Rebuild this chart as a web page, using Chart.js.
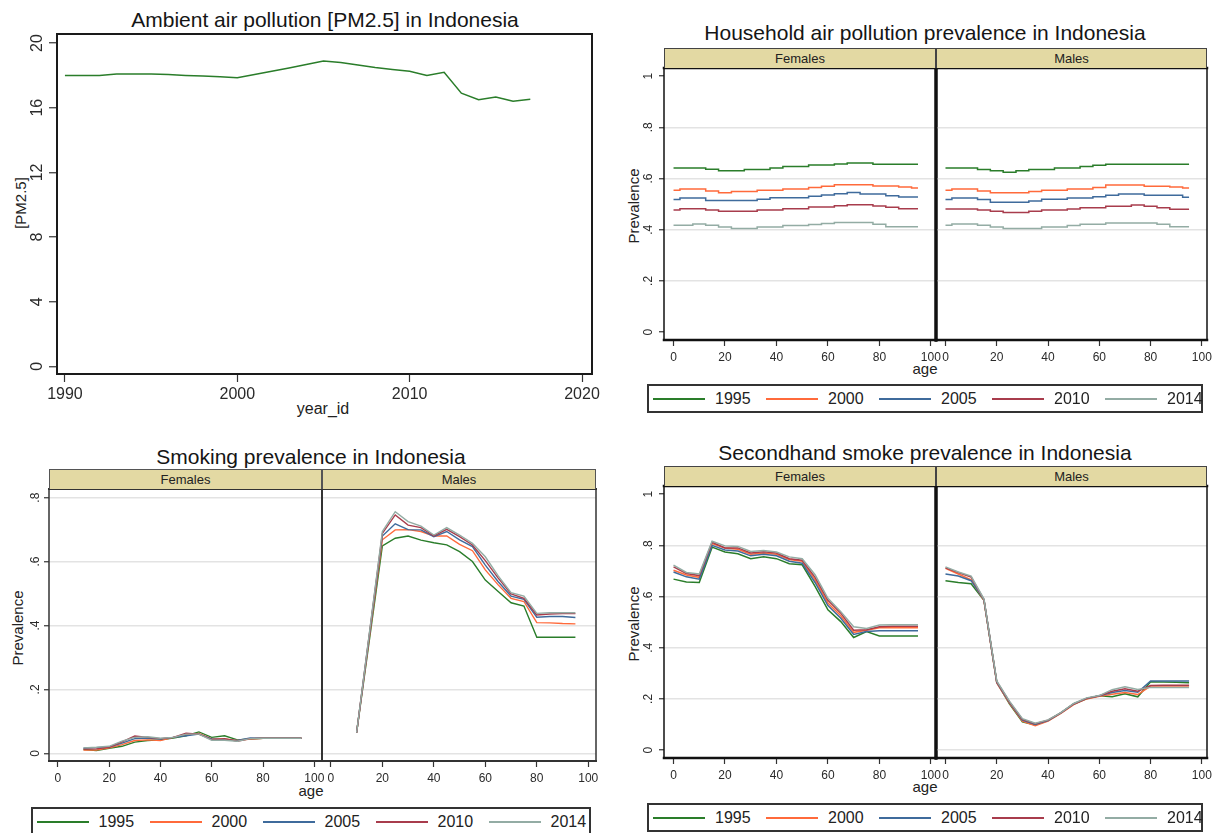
<!DOCTYPE html>
<html>
<head>
<meta charset="utf-8">
<title>Air pollution and smoking in Indonesia</title>
<script src="https://cdn.jsdelivr.net/npm/chart.js@4.4.1/dist/chart.umd.min.js"></script>
<style>
  body { margin: 0; width: 1216px; height: 833px; overflow: hidden; background: #fff; position: relative;
         font-family: "Liberation Sans", Arial, Helvetica, sans-serif; color: #1a1a1a; }
  canvas { position: absolute; }
  .t { position: absolute; white-space: nowrap; line-height: 1; transform: translate(-50%, -50%); }
  .title { font-size: 21px; color: #151515; }
  .ax { font-size: 15px; color: #222; }
  .vert { transform: translate(-50%, -50%) rotate(-90deg); }
  .strip { position: absolute; box-sizing: border-box; background: #e3d9a3; border: 1.5px solid #444; border-bottom: none;
           font-size: 13px; line-height: 1; display: flex; align-items: center; justify-content: center; color: #222; }
  .legend { position: absolute; box-sizing: border-box; border: 2px solid #333; background: #fff; }
  .sw { position: absolute; height: 0; border-top: 2px solid; transform: translateY(-50%); }
  .lt { position: absolute; font-size: 16px; line-height: 1; transform: translateY(-50%); color: #222; }
</style>
</head>
<body>
<div class="t title" style="left:325px;top:19px">Ambient air pollution [PM2.5] in Indonesia</div>
<div class="t title" style="left:925px;top:32px">Household air pollution prevalence in Indonesia</div>
<div class="t title" style="left:311px;top:455.5px">Smoking prevalence in Indonesia</div>
<div class="t title" style="left:925px;top:452px">Secondhand smoke prevalence in Indonesia</div>

<div class="t ax vert" style="left:20px;top:203px">[PM2.5]</div>
<div class="t ax" style="left:323px;top:409px;font-size:16px">year_id</div>
<div class="t ax vert" style="left:633px;top:206px">Prevalence</div>
<div class="t ax" style="left:925px;top:368px">age</div>
<div class="t ax vert" style="left:633px;top:624px">Prevalence</div>
<div class="t ax" style="left:925px;top:786px">age</div>
<div class="t ax vert" style="left:16.5px;top:627.5px">Prevalence</div>
<div class="t ax" style="left:311px;top:790px">age</div>

<script>
// ---- series labels and colours ----
const YEARS = ['1995', '2000', '2005', '2010', '2014'];
const YEAR_COLORS = ['#2a7d2a', '#ff6a3b', '#3f6b9c', '#a83c4c', '#93aca4'];
const SEXES = ['Females', 'Males'];

// ---- ambient PM2.5 by year ----
const PM_YEARS = [1990, 1991, 1992, 1993, 1994, 1995, 1996, 1997, 1998, 1999, 2000, 2001, 2002, 2003,
                  2004, 2005, 2006, 2007, 2008, 2009, 2010, 2011, 2012, 2013, 2014, 2015, 2016, 2017];
const PM25 = [18.0, 18.0, 18.0, 18.08, 18.08, 18.08, 18.06, 18.0, 17.96, 17.92, 17.86, 18.05, 18.25, 18.46,
              18.67, 18.89, 18.8, 18.64, 18.49, 18.37, 18.25, 18.0, 18.19, 16.9, 16.5, 16.66, 16.4, 16.52];
const PM_X_TICKS = [1990, 2000, 2010, 2020];
const PM_Y_TICKS = [0, 4, 8, 12, 16, 20];

// ---- shared tick values ----
const AGE_TICKS = [0, 20, 40, 60, 80, 100];
const PREV_TICKS = [0, 0.2, 0.4, 0.6, 0.8, 1];
const PREV_TICK_LABELS = ['0', '.2', '.4', '.6', '.8', '1'];
const SMK_Y_TICKS = [0, 0.2, 0.4, 0.6, 0.8];
const SMK_Y_LABELS = ['0', '.2', '.4', '.6', '.8'];

// ---- household air pollution prevalence (rows follow YEARS) ----
const HAP_AGES = [0, 5, 10, 15, 20, 25, 30, 35, 40, 45, 50, 55, 60, 65, 70, 75, 80, 85, 90, 95];
const HAP_FEMALES = [
  [.641, .641, .641, .636, .630, .630, .635, .635, .641, .647, .647, .653, .653, .657, .661, .661, .656, .656, .656, .656],
  [.554, .559, .559, .551, .544, .549, .549, .554, .554, .559, .559, .565, .570, .576, .576, .576, .571, .571, .567, .563],
  [.518, .524, .524, .514, .514, .514, .514, .519, .525, .525, .525, .531, .536, .541, .545, .540, .540, .533, .528, .528],
  [.477, .482, .482, .477, .472, .472, .472, .477, .477, .482, .482, .489, .489, .494, .498, .498, .493, .488, .482, .482],
  [.417, .417, .422, .417, .411, .405, .405, .411, .411, .416, .416, .420, .424, .428, .428, .428, .421, .412, .412, .412]
];
const HAP_MALES = [
  [.641, .641, .641, .635, .630, .625, .630, .635, .635, .641, .641, .647, .652, .656, .656, .656, .656, .656, .656, .656],
  [.554, .559, .559, .551, .544, .544, .544, .549, .554, .554, .559, .559, .565, .575, .575, .575, .570, .570, .567, .563],
  [.518, .524, .524, .518, .507, .507, .507, .512, .519, .519, .524, .524, .529, .535, .540, .540, .535, .535, .535, .527],
  [.481, .481, .481, .477, .472, .467, .467, .472, .477, .477, .481, .486, .486, .492, .492, .497, .492, .486, .480, .480],
  [.417, .422, .422, .417, .411, .405, .405, .405, .411, .411, .416, .421, .421, .426, .426, .426, .426, .421, .412, .412]
];

// ---- smoking prevalence ----
const SMK_AGES = [10, 15, 20, 25, 30, 35, 40, 45, 50, 55, 60, 65, 70, 75, 80, 85, 90, 95];
const SMK_FEMALES = [
  [.012, .009, .016, .022, .035, .040, .042, .048, .055, .067, .050, .055, .042, .045, .047, .047, .047, .047],
  [.010, .010, .017, .027, .040, .042, .040, .050, .058, .062, .045, .045, .040, .045, .047, .047, .047, .047],
  [.016, .018, .020, .032, .046, .048, .045, .050, .055, .060, .045, .042, .040, .048, .047, .047, .047, .047],
  [.013, .014, .019, .036, .054, .050, .046, .050, .063, .060, .043, .046, .038, .046, .047, .047, .047, .047],
  [.017, .019, .022, .038, .050, .052, .047, .050, .060, .060, .041, .041, .038, .046, .047, .047, .047, .047]
];
const SMK_MALES = [
  [.065, null, .649, .673, .680, .667, .659, .652, .631, .600, .542, .506, .471, .461, .363, .363, .363, .363],
  [.065, null, .668, .699, .700, .694, .680, .680, .654, .634, .574, .527, .485, .475, .409, .408, .406, .405],
  [.065, null, .680, .718, .700, .699, .678, .694, .668, .647, .589, .537, .492, .482, .426, .428, .428, .425],
  [.065, null, .688, .746, .714, .706, .680, .701, .678, .652, .603, .548, .499, .485, .433, .436, .437, .437],
  [.065, null, .694, .756, .725, .711, .683, .706, .683, .657, .615, .555, .503, .492, .438, .440, .440, .440]
];

// ---- secondhand smoke prevalence ----
const SHS_AGES = [0, 5, 10, 15, 20, 25, 30, 35, 40, 45, 50, 55, 60, 65, 70, 75, 80, 85, 90, 95];
const SHS_FEMALES = [
  [.668, .657, .655, .793, .774, .767, .748, .755, .748, .728, .724, .640, .548, .502, .440, .463, .446, .446, .446, .446],
  [.703, .684, .675, .807, .790, .785, .765, .770, .765, .745, .738, .665, .575, .525, .460, .468, .478, .478, .478, .478],
  [.696, .677, .668, .800, .782, .778, .759, .765, .759, .738, .730, .655, .565, .515, .452, .463, .466, .466, .466, .466],
  [.716, .690, .682, .812, .790, .790, .770, .775, .770, .748, .742, .675, .585, .535, .468, .470, .482, .484, .484, .484],
  [.723, .694, .688, .816, .798, .796, .776, .780, .774, .755, .748, .685, .593, .541, .482, .475, .489, .490, .490, .490]
];
const SHS_MALES = [
  [.662, .655, .650, .585, .265, .180, .110, .098, .115, .145, .180, .200, .212, .208, .220, .208, .267, .266, .265, .263],
  [.710, .688, .665, .585, .262, .183, .113, .095, .113, .143, .178, .200, .210, .218, .225, .217, .250, .250, .250, .250],
  [.688, .680, .662, .588, .265, .186, .117, .100, .115, .145, .180, .202, .212, .225, .233, .226, .270, .270, .270, .270],
  [.712, .694, .676, .588, .267, .188, .120, .103, .117, .145, .180, .202, .212, .230, .240, .230, .252, .253, .253, .253],
  [.716, .696, .680, .590, .270, .190, .123, .105, .118, .146, .182, .204, .213, .236, .247, .237, .245, .245, .245, .245]
];

// ---------------------------------------------------------------
Chart.defaults.font.family = '"Liberation Sans", Arial, Helvetica, sans-serif';
Chart.defaults.color = '#333';

// outline of the plot region, with a separate width for each side
Chart.register({
  id: 'frame',
  afterDraw(chart, args, o) {
    if (!o || !o.color) return;
    const { ctx, chartArea: a } = chart;
    ctx.save();
    ctx.strokeStyle = o.color;
    ctx.lineCap = 'square';
    const seg = (w, x1, y1, x2, y2) => {
      if (!w) return;
      ctx.lineWidth = w;
      ctx.beginPath(); ctx.moveTo(x1, y1); ctx.lineTo(x2, y2); ctx.stroke();
    };
    seg(o.top, a.left, a.top, a.right, a.top);
    seg(o.bottom, a.left, a.bottom, a.right, a.bottom);
    seg(o.left, a.left, a.top, a.left, a.bottom);
    seg(o.right, a.right, a.top, a.right, a.bottom);
    ctx.restore();
  }
});

function yearSeries(ages, rows, width) {
  return rows.map((vals, i) => ({
    label: YEARS[i],
    data: ages.map((a, j) => ({ x: a, y: vals[j] })),
    borderColor: YEAR_COLORS[i],
    borderWidth: width || 1.5,
    pointRadius: 0,
    tension: 0,
    spanGaps: true,
    order: rows.length - i
  }));
}

// one plot region; area = [left, top, right, bottom] of the frame in page pixels
function makeChart(spec) {
  const [l, t, r, b] = spec.area;
  const m = spec.margin;
  const xs = spec.x, ys = spec.y;
  const canvas = document.createElement('canvas');
  canvas.width = (r - l) + m.l + m.r;
  canvas.height = (b - t) + m.t + m.b;
  canvas.style.left = (l - m.l) + 'px';
  canvas.style.top = (t - m.t) + 'px';
  if (spec.filter) canvas.style.filter = spec.filter;
  document.body.appendChild(canvas);
  const grid = ys.grid || [];
  return new Chart(canvas, {
    type: 'line',
    data: { datasets: spec.datasets },
    options: {
      responsive: false,
      animation: false,
      events: [],
      layout: { padding: { left: ys.labels ? 0 : m.l, top: m.t, right: m.r, bottom: 0 } },
      plugins: { legend: { display: false }, tooltip: { enabled: false }, frame: spec.frame },
      scales: {
        x: {
          type: 'linear', min: xs.min, max: xs.max,
          afterBuildTicks: s => { s.ticks = xs.ticks.map(v => ({ value: v })); },
          afterFit: s => { s.height = m.b; s.paddingLeft = 0; s.paddingRight = 0; },
          border: { display: false },
          grid: { display: true, drawOnChartArea: false, drawTicks: true, tickLength: xs.tickLength,
                  tickColor: '#333', tickWidth: 1.2 },
          ticks: { font: { size: xs.fontSize }, color: '#2a2a2a', padding: xs.pad, minRotation: 0, maxRotation: 0,
                   autoSkip: false, callback: (v, i) => xs.labels[i] }
        },
        y: {
          type: 'linear', min: ys.min, max: ys.max,
          afterBuildTicks: s => { s.ticks = ys.ticks.map(v => ({ value: v })); },
          afterFit: s => { s.width = ys.labels ? m.l : 0; s.paddingTop = 0; s.paddingBottom = 0; },
          border: { display: false },
          grid: { display: true, drawOnChartArea: true, drawTicks: !!ys.labels, tickLength: ys.tickLength || 0,
                  tickColor: '#333', tickWidth: 1.2, lineWidth: 1.5,
                  color: c => (c.tick && grid.includes(c.tick.value)) ? '#e3e3e3' : 'rgba(0,0,0,0)' },
          ticks: { display: !!ys.labels, font: { size: ys.fontSize || 12 }, color: '#2a2a2a', padding: ys.pad || 0,
                   minRotation: 90, maxRotation: 90, crossAlign: 'center', autoSkip: false,
                   callback: (v, i) => ys.labels ? ys.labels[i] : '' }
        }
      }
    }
  });
}

function addStrip(x, y, w, h, text, border) {
  const d = document.createElement('div');
  d.className = 'strip';
  Object.assign(d.style, { left: x + 'px', top: y + 'px', width: w + 'px', height: h + 'px' });
  if (border) d.style.borderColor = border;
  d.textContent = text;
  document.body.appendChild(d);
}

function addLegend(x, y, w, h) {
  const box = document.createElement('div');
  box.className = 'legend';
  Object.assign(box.style, { left: x + 'px', top: y + 'px', width: w + 'px', height: h + 'px' });
  document.body.appendChild(box);
  const cy = y + 14.5;
  YEARS.forEach((yr, i) => {
    const sw = document.createElement('div');
    sw.className = 'sw';
    Object.assign(sw.style, { left: (x + 6 + i * 113) + 'px', top: cy + 'px', width: '52px', borderTopColor: YEAR_COLORS[i] });
    document.body.appendChild(sw);
    const tx = document.createElement('div');
    tx.className = 'lt';
    Object.assign(tx.style, { left: (x + 68 + i * 113) + 'px', top: cy + 'px' });
    tx.textContent = yr;
    document.body.appendChild(tx);
  });
}

const AGE_LABELS = AGE_TICKS.map(String);

// ---- ambient PM2.5 ----
makeChart({
  area: [57, 34, 592, 374],
  margin: { l: 32, t: 3, r: 10, b: 32 },
  x: { min: 1989.54, max: 2020.58, ticks: PM_X_TICKS, labels: PM_X_TICKS.map(String), fontSize: 16, tickLength: 8, pad: 3 },
  y: { min: -0.47, max: 20.56, ticks: PM_Y_TICKS, labels: PM_Y_TICKS.map(String), fontSize: 16, tickLength: 8, pad: 3, grid: [] },
  frame: { color: '#1a1a1a', top: 2, bottom: 2, left: 2, right: 2 },
  datasets: [{
    label: 'PM2.5',
    data: PM_YEARS.map((yr, i) => ({ x: yr, y: PM25[i] })),
    borderColor: YEAR_COLORS[0], borderWidth: 1.5, pointRadius: 0, tension: 0
  }]
});

// ---- faceted age panels ----
function facetPair(spec) {
  const [fl, top, mid, fr, bottom] = spec.edges;
  const prevY = (show, grid) => show
    ? { min: spec.ymin, max: spec.ymax, ticks: spec.yticks, labels: spec.ylabels, fontSize: 12, tickLength: 5, pad: spec.ypad, grid }
    : { min: spec.ymin, max: spec.ymax, ticks: spec.yticks, grid };
  const xAxis = { min: spec.xmin, max: spec.xmax, ticks: AGE_TICKS, labels: AGE_LABELS, fontSize: 12, tickLength: 6, pad: 4 };
  const f = spec.frame;
  makeChart({
    area: [fl, top, mid, bottom], margin: { l: 30, t: 3, r: 14, b: 28 },
    x: xAxis, y: prevY(true, spec.gridF), filter: spec.filter,
    frame: { color: f.color, top: f.top, bottom: f.bottom, left: f.outer, right: f.mid },
    datasets: spec.female
  });
  makeChart({
    area: [mid, top, fr, bottom], margin: { l: 12, t: 3, r: 9, b: 28 },
    x: xAxis, y: prevY(false, spec.gridM), filter: spec.filter,
    frame: { color: f.color, top: f.top, bottom: f.bottom, left: f.mid, right: f.outer },
    datasets: spec.male
  });
  addStrip(fl, top - 20, mid - fl, 20, SEXES[0], f.strip);
  addStrip(mid, top - 20, fr - mid, 20, SEXES[1], f.strip);
}

const HEAVY = { color: '#111', top: 2.5, bottom: 2.5, outer: 1.5, mid: 3, strip: '#444' };

// household air pollution
const hapF = yearSeries(HAP_AGES, HAP_FEMALES); hapF.forEach(d => d.stepped = 'middle');
const hapM = yearSeries(HAP_AGES, HAP_MALES); hapM.forEach(d => d.stepped = 'middle');
facetPair({
  edges: [664, 67.5, 936, 1207, 340],
  xmin: -3.7, xmax: 102, ymin: -0.031, ymax: 1.032,
  yticks: PREV_TICKS, ylabels: PREV_TICK_LABELS, ypad: 5,
  gridF: [0.2, 0.4, 0.6, 0.8], gridM: [0.2, 0.4, 0.6, 0.8],
  frame: HEAVY, female: hapF, male: hapM
});
addLegend(647, 384, 556, 28.5);

// secondhand smoke
facetPair({
  edges: [664, 486, 936, 1207, 758],
  xmin: -3.7, xmax: 102, ymin: -0.031, ymax: 1.032,
  yticks: PREV_TICKS, ylabels: PREV_TICK_LABELS, ypad: 5,
  gridF: [0.2, 0.4, 0.6, 0.8], gridM: [0, 0.2, 0.4, 0.6, 0.8],
  frame: HEAVY, female: yearSeries(SHS_AGES, SHS_FEMALES), male: yearSeries(SHS_AGES, SHS_MALES)
});
addLegend(647, 803, 556, 28.5);

// smoking (this panel is rendered slightly soft)
facetPair({
  edges: [49, 489, 322, 596, 761],
  xmin: -3.45, xmax: 103, ymin: -0.024, ymax: 0.827,
  yticks: SMK_Y_TICKS, ylabels: SMK_Y_LABELS, ypad: 3,
  gridF: SMK_Y_TICKS, gridM: SMK_Y_TICKS, filter: 'blur(0.45px)',
  frame: { color: '#333', top: 2, bottom: 2, outer: 1.5, mid: 2, strip: '#555' },
  female: yearSeries(SMK_AGES, SMK_FEMALES, 1.4), male: yearSeries(SMK_AGES, SMK_MALES, 1.4)
});
addLegend(30.5, 807, 560, 30);
</script>
</body>
</html>
